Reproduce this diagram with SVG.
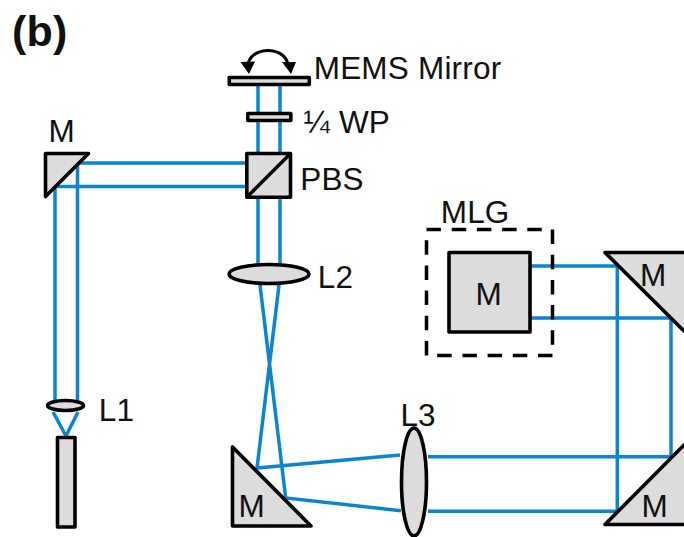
<svg xmlns="http://www.w3.org/2000/svg" width="684" height="537" viewBox="0 0 684 537">
<style>
text{font-family:"Liberation Sans",Arial,sans-serif;font-size:31.500px;letter-spacing:.2px;fill:#111}
.o{fill:#dcdcdc;stroke:#000;stroke-width:3.600;stroke-linejoin:round}
.b{fill:none;stroke:#0a85d0;stroke-width:3.500}
.k{fill:none;stroke:#000;stroke-width:3.600}
</style>
<rect width="684" height="537" fill="#fff"/>
<g id="connectors">
<path class="b" d="M258 86V285M280 86V285"/>
<path class="b" d="M78 163H246M55 186.500H246"/>
<path class="b" d="M55 186V400M77.500 163V400"/>
<path class="b" d="M53 412L66 436M78 412L66 436"/>
<path class="b" d="M260 285L285.700 498L401 510.700M279 285L257 468L400 455"/>
<path class="b" d="M428 456.700H671V318H530M428 511.300H617.300V266H530"/>
</g>
<g id="mems-mirror"><rect class="o" x="229.300" y="77.500" width="80" height="7"/>
<path d="M248 64C252 46 284 46 288 64" fill="none" stroke="#000" stroke-width="3"/>
<path d="M240.500 62L255 61.500L249 74ZM282 62L296 62L291 74Z" fill="#000"/>
<text x="313.700" y="78.500">MEMS Mirror</text></g>
<g id="wp"><rect class="o" x="247.800" y="113.500" width="43" height="7"/><text x="303.500" y="133">¼ WP</text></g>
<g id="pbs"><rect class="o" x="246.800" y="153.500" width="43.700" height="43.700"/><path class="k" d="M246.800 197.200L290.500 153.500"/><text x="300.200" y="189.500">PBS</text></g>
<g id="mirror-top-left"><path class="o" d="M45.500 153.500H88.500L45.500 196.500Z"/><text x="48.400" y="141.500">M</text></g>
<g id="l2"><ellipse class="o" cx="269" cy="274" rx="40" ry="9.500"/><text x="317.700" y="288">L2</text></g>
<g id="l1"><ellipse class="o" cx="65.500" cy="405.500" rx="18" ry="5"/><text x="98.700" y="420.500">L1</text></g>
<g id="source"><rect class="o" x="57.500" y="437.500" width="17.500" height="89.500"/></g>
<g id="mirror-bottom"><path class="o" d="M232.500 447V526H311Z"/><text x="238.500" y="517">M</text></g>
<g id="l3"><ellipse class="o" cx="414" cy="482" rx="12.500" ry="54"/><text x="400.400" y="426">L3</text></g>
<g id="mlg"><rect x="426.500" y="229.500" width="126" height="126" fill="none" stroke="#000" stroke-width="3.500" stroke-dasharray="14.500 10.700"/><text x="440.700" y="223">MLG</text></g>
<g id="grating"><rect class="o" x="449" y="252.500" width="81" height="79.500"/><text x="475.500" y="304.500">M</text></g>
<g id="mirror-right-top"><path class="o" d="M605 252.500H692V339Z"/><text x="640" y="286">M</text></g>
<g id="mirror-right-bottom"><path class="o" d="M605 524.500H692V437Z"/><text x="641.500" y="517">M</text></g>
<g id="panel"><text x="12" y="46" style="font-weight:bold;font-size:43px">(b)</text></g>
</svg>
